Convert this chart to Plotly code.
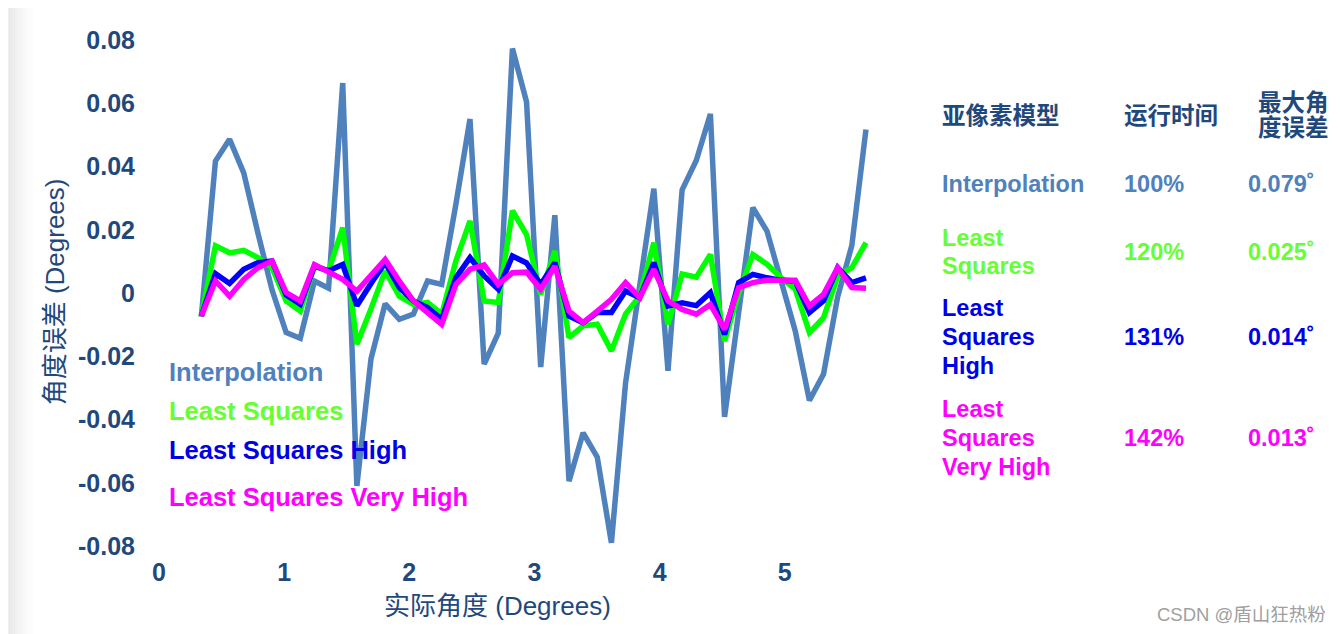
import plotly.graph_objects as go

# ---------------- data ----------------
angles = [0.338, 0.451, 0.564, 0.677, 0.790, 0.903, 1.016, 1.129, 1.242, 1.355,
          1.468, 1.581, 1.694, 1.807, 1.920, 2.033, 2.146, 2.259, 2.372, 2.485,
          2.598, 2.711, 2.824, 2.937, 3.050, 3.163, 3.276, 3.389, 3.502, 3.615,
          3.728, 3.841, 3.954, 4.067, 4.180, 4.293, 4.406, 4.519, 4.632, 4.745,
          4.858, 4.971, 5.084, 5.197, 5.310, 5.423, 5.536, 5.649]

interpolation = [-0.0075, 0.0417, 0.0486, 0.0380, 0.0190, 0.0010, -0.0125, -0.0143, 0.0038, 0.0015,
                 0.0664, -0.0610, -0.0208, -0.0034, -0.0083, -0.0067, 0.0038, 0.0027, 0.0280, 0.0550,
                 -0.0225, -0.0127, 0.0773, 0.0604, -0.0234, 0.0246, -0.0595, -0.0442, -0.0519, -0.0790,
                 -0.0285, 0.0020, 0.0330, -0.0246, 0.0326, 0.0419, 0.0566, -0.0392, -0.0050, 0.0270,
                 0.0196, 0.0040, -0.0120, -0.0340, -0.0256, -0.0012, 0.0150, 0.0517]

least_squares = [-0.0073, 0.0149, 0.0127, 0.0135, 0.0112, 0.0080, -0.0025, -0.0057, 0.0085, 0.0070,
                 0.0207, -0.0162, -0.0050, 0.0070, -0.0010, -0.0036, -0.0030, -0.0067, 0.0101, 0.0228,
                 -0.0025, -0.0030, 0.0260, 0.0185, -0.0004, 0.0133, -0.0141, -0.0104, -0.0099, -0.0183,
                 -0.0067, -0.0009, 0.0159, -0.0099, 0.0060, 0.0050, 0.0122, -0.0152, 0.0000, 0.0122,
                 0.0091, 0.0048, 0.0012, -0.0125, -0.0078, 0.0054, 0.0080, 0.0159]

least_squares_high = [-0.0073, 0.0061, 0.0030, 0.0075, 0.0096, 0.0101, -0.0006, -0.0036, 0.0085, 0.0070,
                      0.0090, -0.0040, 0.0030, 0.0096, 0.0017, -0.0025, -0.0046, -0.0083, 0.0048, 0.0112,
                      0.0054, 0.0012, 0.0117, 0.0095, 0.0027, 0.0096, -0.0073, -0.0094, -0.0062, -0.0062,
                      0.0006, -0.0015, 0.0096, -0.0041, -0.0031, -0.0040, 0.0001, -0.0131, 0.0033, 0.0059,
                      0.0048, 0.0040, 0.0038, -0.0062, -0.0025, 0.0080, 0.0033, 0.0048]

least_squares_very_high = [-0.0073, 0.0038, -0.0010, 0.0043, 0.0080, 0.0101, 0.0001, -0.0025, 0.0090, 0.0064,
                           0.0043, 0.0006, 0.0054, 0.0106, 0.0038, -0.0025, -0.0062, -0.0099, 0.0027, 0.0075,
                           0.0089, 0.0027, 0.0064, 0.0066, 0.0012, 0.0085, -0.0057, -0.0094, -0.0057, -0.0020,
                           0.0033, -0.0015, 0.0075, -0.0025, -0.0052, -0.0067, -0.0036, -0.0115, 0.0017, 0.0033,
                           0.0040, 0.0040, 0.0040, -0.0041, -0.0004, 0.0080, 0.0017, 0.0015]

series_names = ["Interpolation", "Least Squares", "Least Squares High", "Least Squares Very High"]
table_model_lines = [["Interpolation"], ["Least", "Squares"], ["Least", "Squares", "High"],
                     ["Least", "Squares", "Very High"]]
runtime = ["100%", "120%", "131%", "142%"]
max_error = ["0.079˚", "0.025˚", "0.014˚", "0.013˚"]
header_model = "亚像素模型"
header_runtime = "运行时间"
header_error_lines = ["最大角", "度误差"]

x_ticks = [0, 1, 2, 3, 4, 5]
y_ticks = [0.08, 0.06, 0.04, 0.02, 0, -0.02, -0.04, -0.06, -0.08]
y_ticktext = ["0.08", "0.06", "0.04", "0.02", "0", "-0.02", "-0.04", "-0.06", "-0.08"]

# ---------------- style / layout (screen pixel coordinates) ----------------
OFF = 8                      # default page body margin
WIN_W, WIN_H = 1342, 634
FW, FH = WIN_W - OFF, WIN_H - OFF
L, R, T, B = 158.7, 885.0, 40.0, 546.0   # plot area on screen
line_colors = ["#4F81BD", "#00FF00", "#0000FF", "#FF00FF"]
text_colors = ["#4F81BD", "#66FF33", "#0000E6", "#FF00FF"]
navy = "#1F497D"
FONT = "Liberation Sans, Arial, Noto Sans CJK SC, sans-serif"


def px(x):
    return (x - L) / (R - L)


def py(y):
    return (B - y) / (B - T)


fig = go.Figure()
for name, ys, c in zip(series_names,
                       [interpolation, least_squares, least_squares_high, least_squares_very_high],
                       line_colors):
    fig.add_trace(go.Scatter(x=angles, y=ys, mode="lines", name=name,
                             line=dict(color=c, width=5.5)))

ann = []


def text(x, y, s, size, color, xanchor="left", bold=False, **kw):
    ann.append(dict(x=px(x), y=py(y), xref="paper", yref="paper",
                    text=("<b>%s</b>" % s) if bold else s, showarrow=False,
                    xanchor=xanchor, yanchor="middle",
                    font=dict(family=FONT, size=size, color=color), **kw))


# in-plot legend text
legend_y = [372, 411, 450, 497]
for name, c, yy in zip(series_names, text_colors, legend_y):
    text(167, yy, name, 25.5, c, bold=True)

# table header
text(940, 116, header_model, 23.5, navy, bold=True)
text(1122, 116, header_runtime, 23.5, navy, bold=True)
for s, yy in zip(header_error_lines, [103, 128]):
    text(1256, yy, s, 23.5, navy, bold=True)

# table rows
row_line_y = [[184], [238, 266], [308, 337, 366], [409, 438, 467]]
row_mid_y = [184, 252, 337, 438]
for lines, rt, me, c, ys, ym in zip(table_model_lines, runtime, max_error, text_colors,
                                     row_line_y, row_mid_y):
    for s, yy in zip(lines, ys):
        text(940, yy, s, 23.5, c, bold=True)
    text(1122, ym, rt, 23.5, c, bold=True)
    text(1246, ym, me, 23.5, c, bold=True)

# axis titles
text(55, 292, "角度误差 (Degrees)", 26, navy, xanchor="center", textangle=-90)
text(497, 606, "实际角度 (Degrees)", 26, navy, xanchor="center")
# watermark
text(1328, 614, "CSDN @盾山狂热粉", 18.5, "#A0A0A0", xanchor="right")

# left-edge shadow
shapes = []
n = 12
for i in range(n):
    x0 = OFF + i * 2.2
    x1 = OFF + (i + 1) * 2.2
    shapes.append(dict(type="rect", xref="paper", yref="paper", x0=px(x0), x1=px(x1),
                       y0=py(WIN_H), y1=py(OFF), line=dict(width=0),
                       fillcolor="rgba(205,205,205,%.3f)" % (0.45 * (1 - i / n) ** 1.5),
                       layer="below"))

fig.update_layout(
    width=FW, height=FH,
    margin=dict(l=L - OFF, r=FW - (R - OFF), t=T - OFF, b=FH - (B - OFF), pad=0),
    paper_bgcolor="white", plot_bgcolor="white",
    showlegend=False,
    annotations=ann, shapes=shapes,
    xaxis=dict(range=[0, (R - L) / 125.2], tickvals=x_ticks,
               ticktext=["<b>%d</b>" % v for v in x_ticks],
               showgrid=False, zeroline=False, showline=False,
               ticks="outside", ticklen=4, tickcolor="rgba(0,0,0,0)",
               tickfont=dict(family=FONT, size=25, color=navy)),
    yaxis=dict(range=[-0.08, 0.08], tickvals=y_ticks, ticktext=["<b>%s</b>" % t for t in y_ticktext],
               showgrid=False, zeroline=False, showline=False,
               ticks="outside", ticklen=18, tickcolor="rgba(0,0,0,0)",
               tickfont=dict(family=FONT, size=25, color=navy)),
)

fig.write_html("out.html")
